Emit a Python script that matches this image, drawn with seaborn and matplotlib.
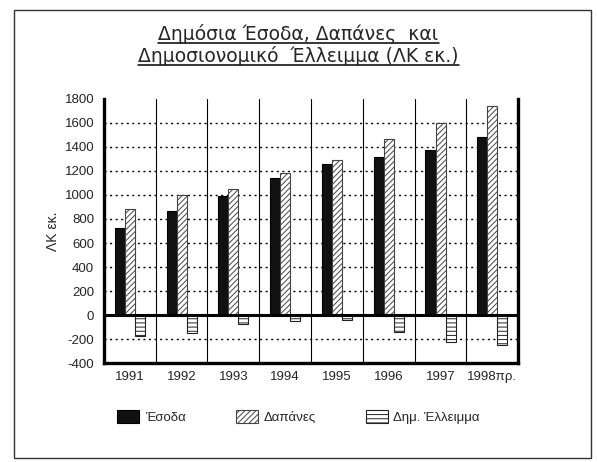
import numpy as np
import pandas as pd
import matplotlib
matplotlib.use('Agg')
import matplotlib.pyplot as plt
import seaborn as sns
from matplotlib.lines import Line2D
from matplotlib.patches import Rectangle

# Στοιχεία (ΛΚ εκ.)
years = ['1991', '1992', '1993', '1994', '1995', '1996', '1997', '1998πρ.']
esoda = [725, 870, 990, 1140, 1255, 1315, 1375, 1480]
dapanes = [885, 1000, 1050, 1185, 1295, 1465, 1600, 1740]
elleimma = [-175, -150, -75, -50, -40, -140, -220, -245]
series_names = ['Έσοδα', 'Δαπάνες', 'Δημ. Έλλειμμα']
y_ticks = list(range(-400, 1801, 200))

df = pd.DataFrame({
    'year': years * 3,
    'series': [series_names[0]] * len(years) + [series_names[1]] * len(years) + [series_names[2]] * len(years),
    'value': esoda + dapanes + elleimma,
})

sns.set_style('white')
plt.rcParams['font.family'] = ['Liberation Sans', 'DejaVu Sans']
plt.rcParams['hatch.linewidth'] = 0.7

fig = plt.figure(figsize=(5.97, 4.62), dpi=100)
ax = fig.add_axes([0.174, 0.214, 0.694, 0.572])

sns.barplot(data=df, x='year', y='value', hue='series', hue_order=series_names,
            order=years, width=0.58, ax=ax, errorbar=None, saturation=1)

styles = [
    dict(facecolor='#111111', edgecolor='black', hatch=None),
    dict(facecolor='white', edgecolor='#444444', hatch='//////'),
    dict(facecolor='white', edgecolor='#222222', hatch='----'),
]
for cont, st in zip(ax.containers, styles):
    for bar in cont:
        bar.set_facecolor(st['facecolor'])
        bar.set_edgecolor(st['edgecolor'])
        bar.set_linewidth(0.8)
        if st['hatch']:
            bar.set_hatch(st['hatch'])

handles, labels = ax.get_legend_handles_labels()
for h, st in zip(handles, styles):
    h.set_facecolor(st['facecolor'])
    h.set_edgecolor(st['edgecolor'])
    h.set_linewidth(0.8)
    if st['hatch']:
        h.set_hatch(st['hatch'])
ax.get_legend().remove()
fig.legend(handles, labels, ncol=3, loc='center', bbox_to_anchor=(0.5, 0.097),
           frameon=False, fontsize=9.5, handlelength=1.7, handleheight=1.1,
           handletextpad=0.4, columnspacing=3.8)

ax.set_ylim(-400, 1800)
ax.set_xlim(-0.5, len(years) - 0.5)
ax.set_yticks(y_ticks)
ax.set_yticklabels([str(t) for t in y_ticks], fontsize=9.5)
ax.set_xticks(range(len(years)))
ax.set_xticklabels(years, fontsize=9.5)
ax.set_xticks(np.arange(-0.5, len(years)), minor=True)
ax.tick_params(axis='x', which='major', length=0, pad=6)
ax.tick_params(axis='x', which='minor', length=4, width=0.8, direction='out', color='black')
ax.tick_params(axis='y', length=4, width=0.8, direction='out', color='black', pad=3)

ax.grid(axis='y', which='major', color='black', linestyle=(0, (1.5, 2.5)), linewidth=1.0)
ax.grid(axis='x', which='minor', color='black', linestyle='-', linewidth=0.8)
ax.grid(axis='x', which='major', visible=False)
gl = ax.yaxis.get_gridlines()
gl[-1].set_visible(False)
ax.set_axisbelow(True)
ax.axhline(0, color='black', linewidth=2.2, zorder=1.5)

for side in ['left', 'bottom', 'right']:
    ax.spines[side].set_visible(True)
    ax.spines[side].set_color('black')
    ax.spines[side].set_linewidth(2.4)
ax.spines['top'].set_visible(False)

ax.set_xlabel('')
ax.set_ylabel('ΛΚ εκ.', fontsize=10, labelpad=3)

# Τίτλος με υπογράμμιση
t1 = fig.text(0.5, 1 - 40 / 462, 'Δημόσια Έσοδα, Δαπάνες  και', ha='center', va='baseline',
              fontsize=13.5, family=['DejaVu Sans'])
t2 = fig.text(0.5, 1 - 62 / 462, 'Δημοσιονομικό  Έλλειμμα (ΛΚ εκ.)', ha='center', va='baseline',
              fontsize=13.5, family=['DejaVu Sans'])
fig.canvas.draw()
inv = fig.transFigure.inverted()
for t in (t1, t2):
    bb = t.get_window_extent()
    x0, _ = inv.transform((bb.x0, 0))
    x1, _ = inv.transform((bb.x1, 0))
    _, y = t.get_position()
    yu = y - 3 / 462
    fig.add_artist(Line2D([x0, x1], [yu, yu], transform=fig.transFigure, color='black', linewidth=1.1))

# Πλαίσιο γύρω από το γράφημα
fig.add_artist(Rectangle((14 / 597, 4 / 462), 577 / 597, 448 / 462, transform=fig.transFigure,
                         fill=False, edgecolor='#333333', linewidth=1.0))

fig.savefig('out.png', dpi=100)
